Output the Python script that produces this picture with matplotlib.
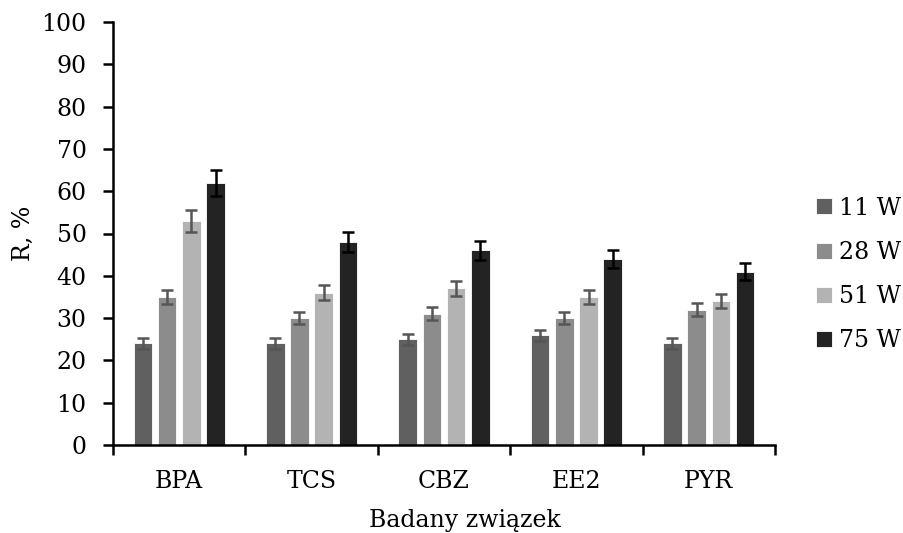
import matplotlib
matplotlib.use("Agg")
import matplotlib.pyplot as plt
import numpy as np

# ── data ──────────────────────────────────────────────────────────────────────
compounds = ["BPA", "TCS", "CBZ", "EE2", "PYR"]
series    = ["11 W", "28 W", "51 W", "75 W"]

r_11 = [24, 24, 25, 26, 24]
r_28 = [35, 30, 31, 30, 32]
r_51 = [53, 36, 37, 35, 34]
r_75 = [62, 48, 46, 44, 41]

err_11 = [1.2, 1.2, 1.25, 1.3, 1.2]
err_28 = [1.75, 1.5, 1.55, 1.5, 1.6]
err_51 = [2.65, 1.8, 1.85, 1.75, 1.7]
err_75 = [3.1, 2.4, 2.3, 2.2, 2.05]

BAR_COLORS = ["#606060", "#8c8c8c", "#b3b3b3", "#232323"]
ERR_COLORS = ["#555555", "#555555", "#555555", "#000000"]

plt.rcParams["font.family"] = ["DejaVu Serif"]
FS = 17

fig = plt.figure(figsize=(9.04, 5.33), dpi=100, facecolor="white")
ax = fig.add_axes([113 / 904, 1 - 445 / 533, 662 / 904, 423 / 533])

x = np.arange(len(compounds))
step = 0.183
width = 0.14
values = [r_11, r_28, r_51, r_75]
errors = [err_11, err_28, err_51, err_75]

for i, (vals, errs) in enumerate(zip(values, errors)):
    pos = x + (i - 1.5) * step
    ax.bar(pos, vals, width, color=BAR_COLORS[i], edgecolor="white",
           linewidth=0.6, label=series[i], zorder=2)
    ax.errorbar(pos, vals, yerr=errs, fmt="none", ecolor=ERR_COLORS[i],
                elinewidth=1.8, capsize=4.5, capthick=1.8, zorder=3)

ax.set_xlim(-0.5, len(compounds) - 0.5)
ax.set_ylim(0, 100)
ax.set_yticks(range(0, 101, 10))

# category labels between boundary ticks
ax.set_xticks(np.arange(-0.5, len(compounds), 1.0))
ax.set_xticklabels([])
ax.set_xticks(x, minor=True)
ax.set_xticklabels(compounds, minor=True, fontsize=FS)
ax.tick_params(axis="x", which="minor", length=0, pad=18)
ax.tick_params(axis="x", which="major", length=7, width=1.8, direction="out")
ax.tick_params(axis="y", length=7, width=1.8, direction="out", labelsize=FS, pad=12)

for side in ["top", "right"]:
    ax.spines[side].set_visible(False)
for side in ["left", "bottom"]:
    ax.spines[side].set_linewidth(1.8)

ax.set_ylabel("R, %", fontsize=FS)
ax.yaxis.set_label_coords(-0.118, 0.5)
ax.set_xlabel("Badany związek", fontsize=FS)
ax.xaxis.set_label_coords(0.532, -0.152)

fig.legend(loc="center left", bbox_to_anchor=(816 / 904, 0.485),
           frameon=False, fontsize=FS, handlelength=0.66, handleheight=0.66,
           handletextpad=0.3, labelspacing=0.9, borderpad=0, borderaxespad=0)

fig.savefig("out.png", dpi=100, facecolor="white")
